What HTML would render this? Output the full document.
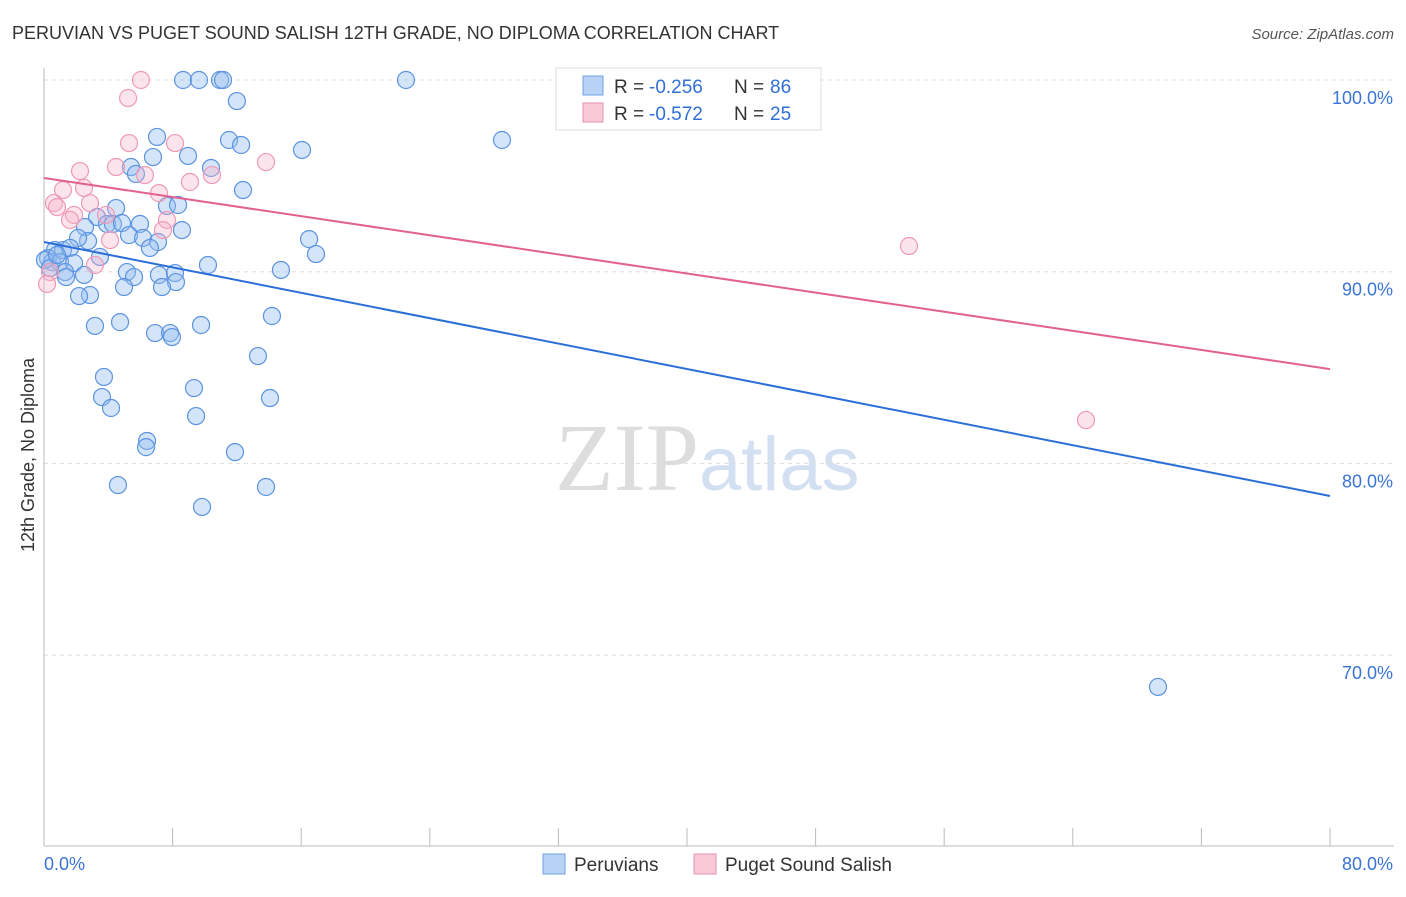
<!DOCTYPE html>
<html><head><meta charset="utf-8"><style>
body{margin:0;background:#fff;font-family:"Liberation Sans",sans-serif}
</style></head><body>
<svg id="chart" width="1406" height="892" xmlns="http://www.w3.org/2000/svg" font-family="Liberation Sans, sans-serif">
<text x="12" y="39" font-size="18" fill="#333">PERUVIAN VS PUGET SOUND SALISH 12TH GRADE, NO DIPLOMA CORRELATION CHART</text>
<text x="1394" y="39" font-size="15" fill="#555" text-anchor="end" font-style="italic">Source: ZipAtlas.com</text>
<text x="555" y="490" font-size="96" fill="#ddd" font-family="Liberation Serif, serif">ZIP<tspan fill="#d3e0f2" font-family="Liberation Sans, sans-serif" font-size="76">atlas</tspan></text>
<g id="grid"></g><g id="axes"></g><g id="pts"></g><g id="trends"></g>
<text transform="translate(34,455) rotate(-90)" font-size="18" fill="#333" text-anchor="middle">12th Grade, No Diploma</text>
<g>
<rect x="556" y="68" width="265" height="62" fill="#fff" stroke="#ddd"/>
<rect x="583" y="76" width="20" height="19" fill="#b8d3f5" stroke="#6fa0e0"/>
<text x="614" y="93" font-size="19" fill="#333">R =</text>
<text x="649" y="93" font-size="19" fill="#2f6fd6">-0.256</text>
<text x="734" y="93" font-size="19" fill="#333">N =</text>
<text x="770" y="93" font-size="19" fill="#2f6fd6">86</text>
<rect x="583" y="103" width="20" height="19" fill="#f9c9d7" stroke="#ea8fae"/>
<text x="614" y="120" font-size="19" fill="#333">R =</text>
<text x="649" y="120" font-size="19" fill="#2f6fd6">-0.572</text>
<text x="734" y="120" font-size="19" fill="#333">N =</text>
<text x="770" y="120" font-size="19" fill="#2f6fd6">25</text>
</g>
<g>
<rect x="543" y="854" width="22" height="20" fill="#b8d3f5" stroke="#6fa0e0"/>
<text x="574" y="871" font-size="19" fill="#333">Peruvians</text>
<rect x="694" y="854" width="22" height="20" fill="#f9c9d7" stroke="#ea8fae"/>
<text x="725" y="871" font-size="19" fill="#333">Puget Sound Salish</text>
</g>
</svg>
<script>
const blueX=[8.65,9.64,10.95,11.14,22.52,12.0,28.49,7.03,11.51,12.26,16.05,6.78,8.96,10.39,5.41,5.72,12.38,7.65,8.34,4.48,3.30,2.55,3.92,4.29,4.85,5.97,8.58,5.29,6.16,7.09,6.59,2.74,2.12,16.49,16.92,0.68,1.18,1.62,0.25,0.50,1.00,1.87,3.48,10.20,14.74,5.16,5.60,7.15,8.15,8.21,1.31,1.37,4.98,7.34,2.86,2.18,3.17,4.73,9.77,14.18,6.91,7.84,7.96,13.31,3.73,9.33,3.61,4.17,14.06,9.46,6.41,6.35,11.88,4.60,13.81,9.83,69.30,0.06,0.37,0.81,2.49];
const blueY=[100,100,100,100,100,98.9,96.87,97.03,96.87,96.61,96.35,95.98,96.04,95.41,95.46,95.10,94.26,93.43,93.48,93.32,92.85,92.33,92.49,92.49,92.54,92.49,92.17,91.91,91.76,91.55,91.24,91.60,91.76,91.70,90.92,91.13,91.13,91.24,90.71,90.50,90.50,90.45,90.77,90.35,90.09,89.98,89.72,89.83,89.93,89.46,89.98,89.72,89.20,89.20,88.78,88.73,87.17,87.37,87.22,87.69,86.80,86.80,86.59,85.60,84.51,83.93,83.46,82.89,83.41,82.47,81.17,80.85,80.59,78.87,78.77,77.73,68.34,90.61,90.19,90.87,89.83];
const pinkX=[6.03,5.23,5.29,8.15,13.81,2.24,4.48,6.28,10.45,1.18,2.49,9.08,7.15,0.62,0.81,2.86,1.87,1.62,3.86,7.65,7.40,4.11,3.17,0.37,0.19,53.81,64.82];
const pinkY=[100,99.06,96.71,96.71,95.72,95.25,95.46,95.04,95.04,94.26,94.37,94.68,94.10,93.58,93.37,93.58,92.96,92.70,92.96,92.70,92.17,91.65,90.35,89.98,89.36,91.34,82.26];
const blueTrend=[91.55,78.3];
const pinkTrend=[94.89,84.92];
const yTicks=[100,90,80,70];
const yTickLabels=["100.0%","90.0%","80.0%","70.0%"];
const xTicks=[0,8,16,24,32,40,48,56,64,72,80];
const xEndLabels=["0.0%","80.0%"];
const NS="http://www.w3.org/2000/svg";
const sx=v=>44+v/80*1286;
const sy=v=>80+(100-v)*19.17;
function mk(tag,attrs,parent){const e=document.createElementNS(NS,tag);for(const k in attrs)e.setAttribute(k,attrs[k]);parent.appendChild(e);return e;}
const grid=document.getElementById('grid'),axes=document.getElementById('axes'),pts=document.getElementById('pts'),tr=document.getElementById('trends');
yTicks.forEach((t,i)=>{
 const l=mk('line',{x1:44,x2:1394,y1:sy(t),y2:sy(t),stroke:'#ddd','stroke-dasharray':'4,4'},grid);
 
 
 const tx=mk('text',{x:1393,y:sy(t)+24,'font-size':18,fill:'#3a74d4','text-anchor':'end'},axes);
 tx.textContent=yTickLabels[i];
 
 
});
const ya=mk('line',{x1:44,x2:44,y1:68,y2:846,stroke:'#bbb'},axes);


const xa=mk('line',{x1:44,x2:1394,y1:846,y2:846,stroke:'#bbb'},axes);


xTicks.forEach(t=>{
 const l=mk('line',{x1:sx(t),x2:sx(t),y1:828,y2:846,stroke:'#bbb'},axes);
 
 
});
const xl0=mk('text',{x:44,y:870,'font-size':18,fill:'#3a74d4'},axes);xl0.textContent=xEndLabels[0];


const xl1=mk('text',{x:1393,y:870,'font-size':18,fill:'#3a74d4','text-anchor':'end'},axes);xl1.textContent=xEndLabels[1];


blueX.forEach((x,i)=>{
 const c=mk('circle',{cx:sx(x),cy:sy(blueY[i]),r:8.5,fill:'rgba(150,190,240,0.4)',stroke:'#5b93e0','stroke-width':1.2},pts);
 
 
});
pinkX.forEach((x,i)=>{
 const c=mk('circle',{cx:sx(x),cy:sy(pinkY[i]),r:8.5,fill:'rgba(246,178,200,0.35)',stroke:'#ee9ab6','stroke-width':1.2},pts);
 
 
});
const bt=mk('line',{x1:sx(0),y1:sy(blueTrend[0]),x2:sx(80),y2:sy(blueTrend[1]),stroke:'#2a6fd8','stroke-width':2},tr);


const pt=mk('line',{x1:sx(0),y1:sy(pinkTrend[0]),x2:sx(80),y2:sy(pinkTrend[1]),stroke:'#e2628f','stroke-width':2},tr);


</script>
</body></html>
